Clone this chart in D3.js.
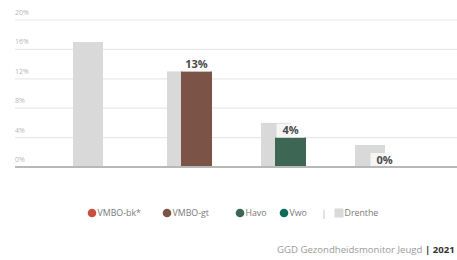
<!DOCTYPE html>
<html lang="nl">
<head>
    <meta charset="UTF-8">
    <script src="https://d3js.org/d3.v7.min.js"></script>
    <style>
        body { margin: 0; background: #fff; }
        svg { font-family: "Open Sans", sans-serif; display: block; }
    </style>
</head>
<body>
    <script>
        var categories = ['VMBO-bk*', 'VMBO-gt', 'Havo', 'Vwo'];
        var schoolValues = [null, 13, 4, 0];
        var drentheValues = [17, 13, 6, 3];
        var seriesColors = ['#c9503f', '#7b5447', '#3d6654', '#0d6b5a'];
        var yTicks = [0, 4, 8, 12, 16, 20];
        var legendItems = [
            { name: 'VMBO-bk*', color: '#c9503f', shape: 'circle', x: 92 },
            { name: 'VMBO-gt', color: '#7b5447', shape: 'circle', x: 167 },
            { name: 'Havo', color: '#3d6654', shape: 'circle', x: 240 },
            { name: 'Vwo', color: '#0d6b5a', shape: 'circle', x: 284 },
            { name: 'Drenthe', color: '#d9d9d9', shape: 'square', x: 339 }
        ];

        var width = 457, height = 260;
        var svg = d3.select('body').append('svg')
            .attr('width', width)
            .attr('height', height);

        var xScale = d3.scaleBand()
            .domain(categories)
            .range([48.5, 424.5]);

        var yScale = d3.scaleLinear()
            .domain([0, 20])
            .range([167, 20]);

        // gridlines + tick labels
        svg.selectAll('.grid')
            .data(yTicks.slice(1))
            .enter()
            .append('line')
            .attr('x1', 15)
            .attr('x2', width)
            .attr('y1', function(d) { return yScale(d); })
            .attr('y2', function(d) { return yScale(d); })
            .attr('stroke', '#e8e8e8')
            .attr('stroke-width', 1.2);

        svg.selectAll('.ytick')
            .data(yTicks)
            .enter()
            .append('text')
            .attr('x', 15)
            .attr('y', function(d) { return yScale(d) - 5; })
            .attr('font-size', '7px')
            .attr('fill', '#b5b5b5')
            .text(function(d) { return d + '%'; });

        var center = function(c) { return xScale(c) + xScale.bandwidth() / 2; };

        // Drenthe bars (behind)
        svg.selectAll('.drenthe')
            .data(categories)
            .enter()
            .append('rect')
            .attr('x', function(d) { return center(d) - 22.5; })
            .attr('width', 30)
            .attr('y', function(d, i) { return yScale(drentheValues[i]); })
            .attr('height', function(d, i) { return yScale(0) - yScale(drentheValues[i]); })
            .attr('fill', '#d9d9d9');

        var schoolData = categories.map(function(c, i) {
            return { cat: c, value: schoolValues[i], color: seriesColors[i] };
        }).filter(function(d) { return d.value !== null; });

        svg.selectAll('.school')
            .data(schoolData)
            .enter()
            .append('rect')
            .attr('x', function(d) { return center(d.cat) - 8.5; })
            .attr('width', 31)
            .attr('y', function(d) { return yScale(d.value); })
            .attr('height', function(d) { return yScale(0) - yScale(d.value); })
            .attr('fill', function(d) { return d.color; });

        // labels with light background
        var labels = svg.selectAll('.lbl')
            .data(schoolData)
            .enter()
            .append('g');

        labels.append('rect')
            .attr('x', function(d) { return center(d.cat) + 7 - 14; })
            .attr('y', function(d) { return yScale(d.value) - 14; })
            .attr('width', 28)
            .attr('height', 14)
            .attr('fill', 'rgba(255,255,255,0.75)');

        labels.append('text')
            .attr('x', function(d) { return center(d.cat) + 7; })
            .attr('y', function(d) { return yScale(d.value) - 3.5; })
            .attr('text-anchor', 'middle')
            .attr('font-size', '11px')
            .attr('font-weight', 'bold')
            .attr('fill', '#4a4a4a')
            .text(function(d) { return d.value + '%'; });

        // baseline
        svg.append('line')
            .attr('x1', 15)
            .attr('x2', width)
            .attr('y1', yScale(0))
            .attr('y2', yScale(0))
            .attr('stroke', '#b8b8b8')
            .attr('stroke-width', 2);

        // legend
        var legendY = 213;
        var legend = svg.selectAll('.legend')
            .data(legendItems)
            .enter()
            .append('g');

        legend.filter(function(d) { return d.shape === 'circle'; })
            .append('circle')
            .attr('cx', function(d) { return d.x; })
            .attr('cy', legendY)
            .attr('r', 4.3)
            .attr('fill', function(d) { return d.color; });

        legend.filter(function(d) { return d.shape === 'square'; })
            .append('rect')
            .attr('x', function(d) { return d.x - 4.5; })
            .attr('y', legendY - 4.5)
            .attr('width', 9)
            .attr('height', 9)
            .attr('fill', function(d) { return d.color; });

        legend.append('text')
            .attr('x', function(d) { return d.x + 5.5; })
            .attr('y', legendY + 3)
            .attr('font-size', '8.8px')
            .attr('fill', '#7a7a7a')
            .text(function(d) { return d.name; });

        svg.append('text')
            .attr('x', 324)
            .attr('y', legendY + 3.5)
            .attr('text-anchor', 'middle')
            .attr('font-size', '9px')
            .attr('fill', '#aaa')
            .text('|');

        // footer
        var footer = svg.append('text')
            .attr('x', 277)
            .attr('y', 253)
            .attr('font-size', '9.6px')
            .attr('fill', '#9a9a9a');
        footer.append('tspan').text('GGD Gezondheidsmonitor Jeugd ');
        footer.append('tspan').attr('font-weight', 'bold').attr('fill', '#333').text('| 2021');
    </script>
</body>
</html>
